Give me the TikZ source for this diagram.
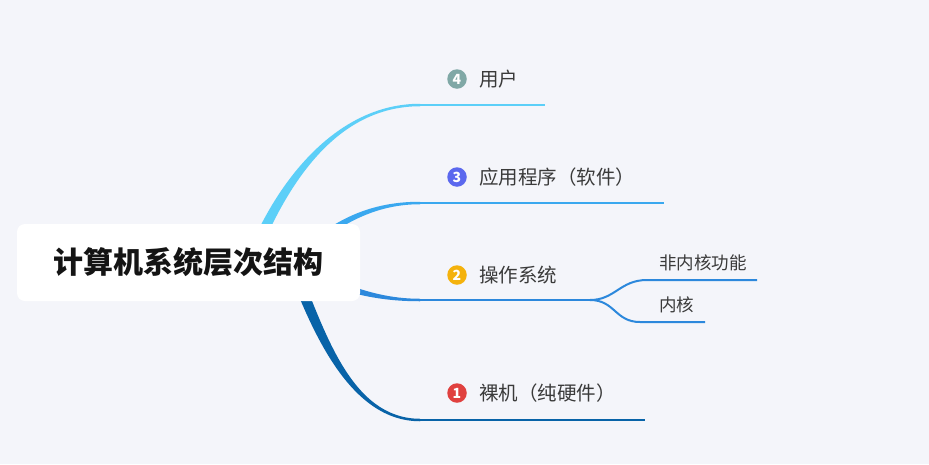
\documentclass[tikz,border=0pt]{standalone}
\usepackage{fontspec}
\setmainfont{Noto Sans CJK SC}
\usetikzlibrary{calc,positioning}
\definecolor{bgc}{HTML}{F4F5FA}
\definecolor{c4}{HTML}{5CCFF8}
\definecolor{c3}{HTML}{3AA8EF}
\definecolor{c2}{HTML}{2C88DC}
\definecolor{c1}{HTML}{0863A8}
\definecolor{i4}{HTML}{80A8A6}
\definecolor{i3}{HTML}{5B68EE}
\definecolor{i2}{HTML}{F4B20C}
\definecolor{i1}{HTML}{E0413F}
\definecolor{txt}{HTML}{3A3A3A}
\tikzset{
  root/.style={fill=white, rounded corners=8pt, minimum width=343pt, minimum height=77pt, inner sep=0pt,
    font=\fontsize{30}{32}\selectfont\bfseries, text=black!92},
  topic/.style={inner sep=0pt, font=\fontsize{19.5}{22}\selectfont, text=txt},
  subtopic/.style={anchor=west, inner sep=0pt, font=\fontsize{17.5}{20}\selectfont, text=txt},
  badge/.style={circle, fill=#1, text=white, minimum size=19.5pt, inner sep=0pt,
    font=\fontsize{14}{14}\selectfont\bfseries},
  stem/.style={line width=2.5pt},
  twig/.style={line width=2pt, c2},
}

\begin{document}
\begin{tikzpicture}[x=1pt,y=-1pt]
\fill[bgc] (0,0) rectangle (929,464);

% branch points
\coordinate (s4) at (250,262); \coordinate (e4) at (420,105); \coordinate (f4) at (545,105);
\coordinate (s3) at (305,250); \coordinate (e3) at (420,203); \coordinate (f3) at (664,203);
\coordinate (s2) at (320,278); \coordinate (e2) at (420,300); \coordinate (f2) at (590,300);
\coordinate (s1) at (292,265); \coordinate (e1) at (420,420); \coordinate (f1) at (645,420);
\coordinate (g1) at (647,280); \coordinate (h1) at (757,280);
\coordinate (g2) at (640,322); \coordinate (h2) at (705,322);

% tapered main branches
\fill[c4] ($(s4)+(-5.5,0)$) .. controls (274,184) and (335,103.75) .. ($(e4)+(0,-1.25)$)
  -- ($(e4)+(0,1.25)$) .. controls (335,106.25) and (286,186) .. ($(s4)+(5.5,0)$) -- cycle;
\fill[c3] ($(s3)+(0,-4)$) .. controls (340,216) and (375,201.75) .. ($(e3)+(0,-1.25)$)
  -- ($(e3)+(0,1.25)$) .. controls (375,204.25) and (340,224) .. ($(s3)+(0,4)$) -- cycle;
\fill[c2] ($(s2)+(0,-4)$) .. controls (350,286) and (380,298.75) .. ($(e2)+(0,-1.25)$)
  -- ($(e2)+(0,1.25)$) .. controls (380,301.25) and (350,294) .. ($(s2)+(0,4)$) -- cycle;
\fill[c1] ($(s1)+(5.5,0)$) .. controls (324,328) and (350,418.75) .. ($(e1)+(0,-1.25)$)
  -- ($(e1)+(0,1.25)$) .. controls (350,421.25) and (312,332) .. ($(s1)+(-5.5,0)$) -- cycle;

\draw[stem,c4] (e4) -- (f4);
\draw[stem,c3] (e3) -- (f3);
\draw[stem,c2] (e2) -- (f2);
\draw[stem,c1] (e1) -- (f1);

% sub branches
\draw[twig] (f2) .. controls (615,300) and (620,280) .. (g1) -- (h1);
\draw[twig] (f2) .. controls (615,300) and (615,322) .. (g2) -- (h2);

% central topic
\node[root] (root) at (188.5,262.5) {计算机系统层次结构};

% topics
\node[badge=i4] (b4) at (457,79) {4};
\node[topic, right=12pt of b4] (t4) {用户};
\node[badge=i3] (b3) at (457,177) {3};
\node[topic, right=12pt of b3] (t3) {应用程序（软件）};
\node[badge=i2] (b2) at (457,275) {2};
\node[topic, right=12pt of b2] (t2) {操作系统};
\node[badge=i1] (b1) at (457,393) {1};
\node[topic, right=12pt of b1] (t1) {裸机（纯硬件）};

\node[subtopic] (n1) at (659,263) {非内核功能};
\node[subtopic] (n2) at (659,305) {内核};

\end{tikzpicture}
\end{document}
